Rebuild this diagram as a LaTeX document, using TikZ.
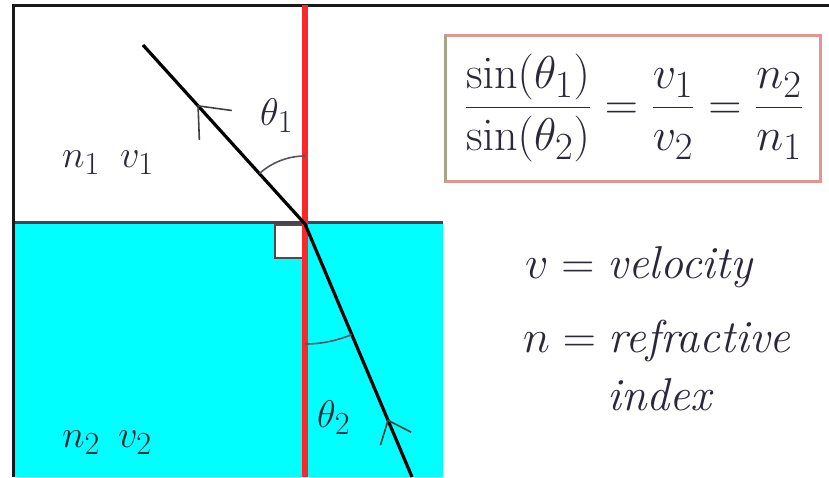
\documentclass[tikz,border=0pt]{standalone}
\usepackage{graphicx}
\usetikzlibrary{calc}
\definecolor{txt}{RGB}{45,40,55}
\definecolor{water}{RGB}{0,255,255}
\definecolor{normalred}{RGB}{250,40,40}
\definecolor{boxred}{RGB}{225,150,145}
\definecolor{boxleft}{RGB}{165,165,135}
\definecolor{surface}{RGB}{75,65,85}
\newcommand{\bigtxt}[1]{\scalebox{1.85}{\Huge #1}}
\newcommand{\medtxt}[1]{\scalebox{1.55}{\Huge #1}}
\begin{document}
\begin{tikzpicture}[x=1pt,y=-1pt,
  lbl/.style={text=txt,inner sep=0pt},
  ray/.style={line width=3.2pt,draw=black},
  barb/.style={line width=1.6pt,draw=black!75},
  anglearc/.style={line width=1.6pt,draw=txt!80}]
\useasboundingbox (0,0) rectangle (829,477);
\fill[white] (0,0) rectangle (829,477);
% water
\fill[water] (15,224) rectangle (443,477);
% frame
\draw[line width=3.5pt,black!90] (12,5.5) -- (829,5.5);
\draw[line width=3.5pt,black!90] (13.5,4) -- (13.5,477);
% surface
\draw[line width=3pt,surface] (15,222.5) -- (443,222.5);
% right angle square
\draw[fill=white,draw=black!70,line width=1.5pt] (275,225) rectangle (303,258);
% normal
\coordinate (O) at (305,224);
\coordinate (N1) at (305,5);
\coordinate (N2) at (305,477);
\draw[line width=6pt,normalred] (N1) -- (N2);
% rays
\coordinate (A) at (143,45);
\coordinate (B) at (412,477);
\draw[ray] (A) -- (O) -- (B);
% arcs
\draw[anglearc] (O) ++(-90:68) arc (-90:-132:68);
\draw[anglearc] (O) ++(90:120) arc (90:67:120);
% arrow chevrons
\coordinate (T1) at ($(A)!0.34!(O)$);
\draw[barb] ($(T1)!34pt!40:(O)$) -- (T1) -- ($(T1)!34pt!-40:(O)$);
\coordinate (T2) at ($(O)!0.776!(B)$);
\draw[barb] ($(T2)!26pt!40:(B)$) -- (T2) -- ($(T2)!26pt!-40:(B)$);
% labels
\node[lbl,anchor=base west] (n1) at (62,167) {\medtxt{$n_1$}};
\node[lbl,anchor=base west] (v1) at (120,167) {\medtxt{$v_1$}};
\node[lbl,anchor=base west] (n2) at (62,447) {\medtxt{$n_2$}};
\node[lbl,anchor=base west] (v2) at (118,447) {\medtxt{$v_2$}};
\node[lbl,anchor=base west] (th1) at (260,125) {\medtxt{$\theta_1$}};
\node[lbl,anchor=base west] (th2) at (317,427) {\medtxt{$\theta_2$}};
% equation box
\draw[line width=3pt,boxred] (445,35) rectangle (820,181);
\draw[line width=3pt,boxleft] (445,35) -- (445,181);
\node[lbl] (eq) at (634,108) {\bigtxt{$\displaystyle\frac{\sin(\theta_1)}{\sin(\theta_2)}=\frac{v_1}{v_2}=\frac{n_2}{n_1}$}};
% legend
\node[lbl,anchor=base west] (lv) at (525,278) {\bigtxt{$v = \textit{velocity}$}};
\node[lbl,anchor=base west] (ln) at (523,352) {\bigtxt{$n = \textit{refractive}$}};
\node[lbl,anchor=base west] (li) at (607,410) {\bigtxt{\textit{index}}};
\end{tikzpicture}
\end{document}
